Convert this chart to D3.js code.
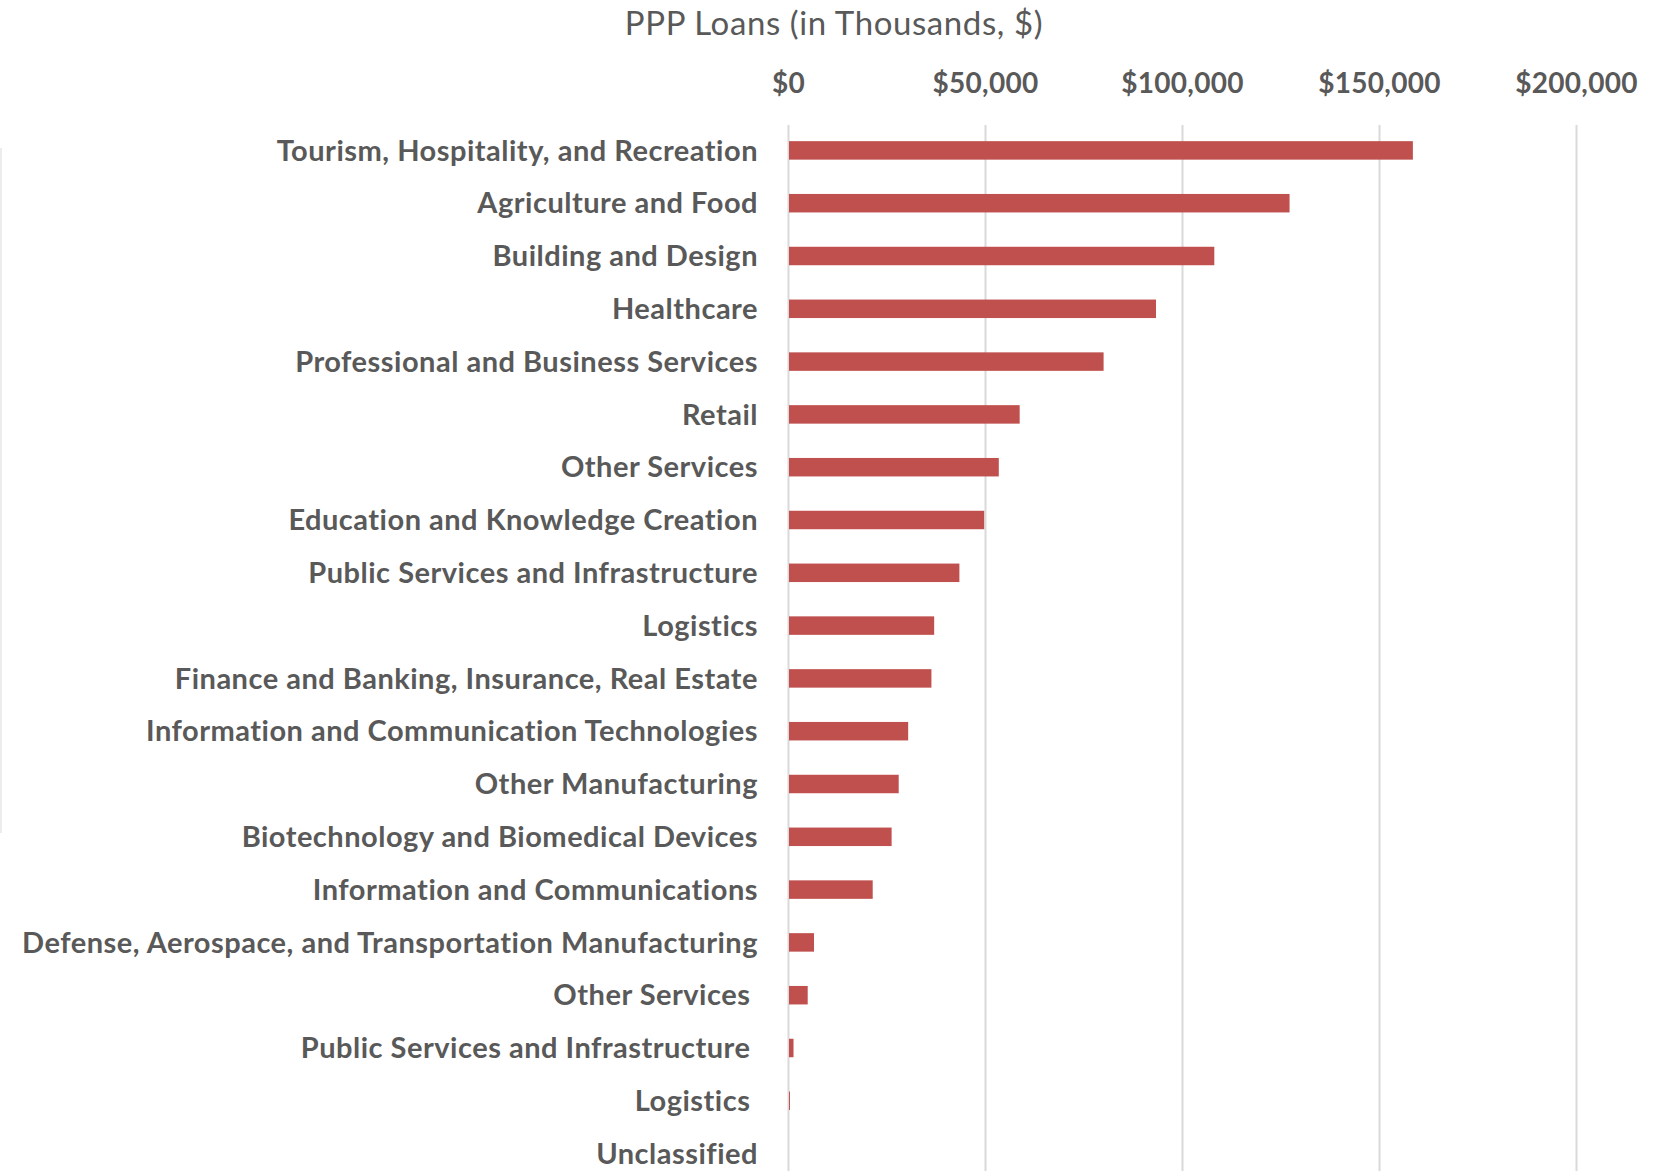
<!DOCTYPE html>
<html>
<head>
<meta charset="utf-8">
<script src="https://cdn.jsdelivr.net/npm/d3@7"></script>
<style>
  body { margin: 0; background: #fff; }
  svg { display: block; }
  .y.axis text { white-space: pre; }
</style>
</head>
<body>
<div id="chart"></div>
<script>
// industries, top to bottom (some names repeat in the source)
var industries = [
  "Tourism, Hospitality, and Recreation",
  "Agriculture and Food",
  "Building and Design",
  "Healthcare",
  "Professional and Business Services",
  "Retail",
  "Other Services",
  "Education and Knowledge Creation",
  "Public Services and Infrastructure",
  "Logistics",
  "Finance and Banking, Insurance, Real Estate",
  "Information and Communication Technologies",
  "Other Manufacturing",
  "Biotechnology and Biomedical Devices",
  "Information and Communications",
  "Defense, Aerospace, and Transportation Manufacturing",
  "Other Services ",
  "Public Services and Infrastructure ",
  "Logistics ",
  "Unclassified"
];

// PPP loans, in thousands of dollars
var loans = [158600, 127300, 108200, 93400, 80100, 58800, 53500, 49800, 43500, 37100,
             36400, 30500, 28100, 26300, 21500, 6600, 5000, 1400, 500, 0];

var xTicks = [0, 50000, 100000, 150000, 200000];
var title = "PPP Loans (in Thousands, $)";

var W = 1663, H = 1171;
var margin = {top: 124, left: 788, right: 87, bottom: 0};
var plotBottom = 124 + industries.length * 52.8;

var data = industries.map(function(d, i) { return {i: i, name: d, value: loans[i]}; });

var x = d3.scaleLinear()
    .domain([0, 200000])
    .range([margin.left, W - margin.right]);

var y = d3.scaleBand()
    .domain(d3.range(industries.length))
    .range([margin.top, plotBottom])
    .paddingInner(0.65)
    .paddingOuter(0.325);

var svg = d3.select("#chart").append("svg")
    .attr("width", W)
    .attr("height", H)
    .style("font-family", "Lato, 'Open Sans', sans-serif");

// faint frame edge on the far left
svg.append("line")
    .attr("x1", 1).attr("x2", 1)
    .attr("y1", 148).attr("y2", 833)
    .attr("stroke", "#ececec")
    .attr("stroke-width", 2);

// title
svg.append("text")
    .attr("x", 834)
    .attr("y", 35)
    .attr("text-anchor", "middle")
    .attr("fill", "#595959")
    .style("font-size", "33px")
    .style("letter-spacing", "0.6px")
    .text(title);

// top axis with gridlines
var xAxis = svg.append("g")
    .attr("class", "x axis")
    .attr("transform", "translate(0," + (margin.top + 1) + ")")
    .call(d3.axisTop(x)
        .tickValues(xTicks)
        .tickSize(-(plotBottom - margin.top))
        .tickPadding(32)
        .tickFormat(function(d) { return "$" + d3.format(",")(d); }));

xAxis.select(".domain").remove();
xAxis.selectAll(".tick line")
    .attr("stroke", "#d9d9d9")
    .attr("stroke-width", 2);
xAxis.selectAll(".tick text")
    .attr("fill", "#595959")
    .style("font-size", "28px")
    .style("letter-spacing", "0.3px")
    .style("font-weight", "bold")
    .style("font-family", "Lato, 'Open Sans', sans-serif");

// bars
svg.selectAll(".bar")
    .data(data)
    .enter().append("rect")
    .attr("class", "bar")
    .attr("x", x(0) + 1)
    .attr("y", function(d) { return y(d.i); })
    .attr("width", function(d) { return Math.max(0, x(d.value) - x(0) - 1); })
    .attr("height", y.bandwidth())
    .attr("fill", "#c0504d");

// category labels
var yAxis = svg.append("g")
    .attr("class", "y axis")
    .attr("transform", "translate(" + (x(0) + 1) + ",1)")
    .call(d3.axisLeft(y)
        .tickSize(0)
        .tickPadding(31)
        .tickFormat(function(i) { return industries[i]; }));

yAxis.select(".domain").remove();
yAxis.selectAll(".tick text")
    .attr("fill", "#595959")
    .style("font-size", "29px")
    .style("letter-spacing", "0.5px")
    .style("font-weight", "bold")
    .style("font-family", "Lato, 'Open Sans', sans-serif");
</script>
</body>
</html>
